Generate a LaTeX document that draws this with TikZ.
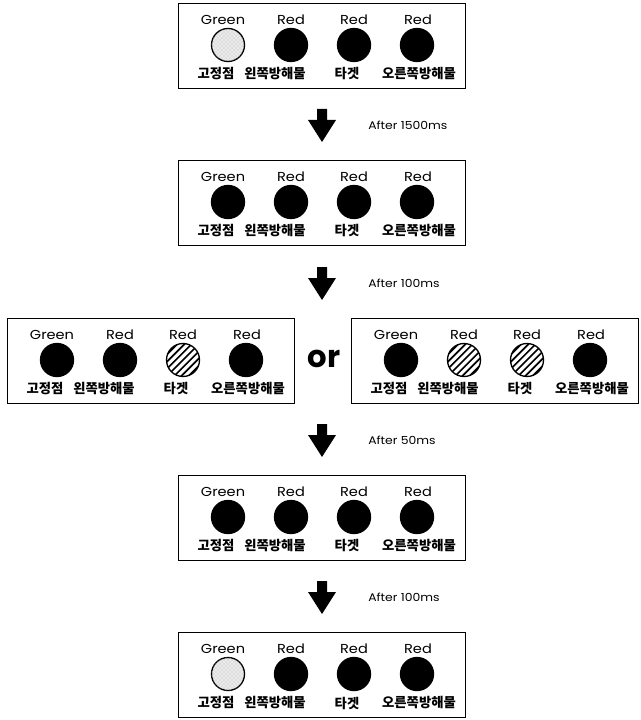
\documentclass[tikz,border=0pt]{standalone}
\usepackage{fontspec}
\usetikzlibrary{patterns}
\setmainfont{Poppins}[FakeStretch=1.12]
\newfontfamily\orfont{Poppins}
\newfontfamily\krfont{Noto Sans CJK KR}

\tikzset{
  panelbox/.style={draw, line width=1pt, minimum width=215.25pt, minimum height=63.75pt, inner sep=0pt},
  colorlabel/.style={font=\fontsize{9.75pt}{11pt}\selectfont, inner sep=0pt},
  posname/.style={font=\krfont\bfseries\fontsize{10pt}{11pt}\selectfont, inner sep=0pt},
  delay/.style={font=\fontsize{8.3pt}{10pt}\selectfont, anchor=west, inner sep=0pt},
  lamp/.style={circle, minimum size=24.75pt, inner sep=0pt, line width=1pt, draw},
  lampoff/.style={lamp, fill=black!8,
    postaction={pattern=crosshatch dots, pattern color=black!30}},
  lampon/.style={lamp, fill=black},
  lamphatch/.style={lamp, fill=white,
    path picture={
      \foreach \k in {-5,...,5}{
        \draw[line width=1.25pt]
          ([shift={({\k*3.6-25},{\k*3.6+25})}]path picture bounding box.center) --
          ([shift={({\k*3.6+25},{\k*3.6-25})}]path picture bounding box.center);
      }
    }},
}

% one panel of four lamps: name, left x, top y, lamp styles 1..4
\newcommand\panel[7]{%
  \node[panelbox, anchor=north west] (#1) at (#2,#3) {};
  \node[colorlabel] (#1-c1) at ({#2+45},{#3+17}) {Green};
  \node[colorlabel] (#1-c2) at ({#2+113},{#3+17}) {Red};
  \node[colorlabel] (#1-c3) at ({#2+176},{#3+17}) {Red};
  \node[colorlabel] (#1-c4) at ({#2+240},{#3+17}) {Red};
  \node[#4] (#1-l1) at ({#2+50},{#3+42}) {};
  \node[#5] (#1-l2) at ({#2+113},{#3+42}) {};
  \node[#6] (#1-l3) at ({#2+176},{#3+42}) {};
  \node[#7] (#1-l4) at ({#2+239},{#3+42}) {};
  \node[posname] (#1-n1) at ({#2+38},{#3+71}) {고정점};
  \node[posname] (#1-n2) at ({#2+97},{#3+71}) {왼쪽방해물};
  \node[posname] (#1-n3) at ({#2+169},{#3+71}) {타겟};
  \node[posname] (#1-n4) at ({#2+241},{#3+71}) {오른쪽방해물};
}

% thick downward block arrow: name, centre x, tip y
\newcommand\blockdown[3]{%
  \coordinate (#1) at (#2,#3);
  \fill (#1) ++(-5,-33) -- ++(10,0) -- ++(0,11) -- ++(9,0) -- (#1)
    -- ++(-14,-22) -- ++(9,0) -- cycle;
}

\begin{document}
\begin{tikzpicture}[x=0.75pt, y=-0.75pt]
  \fill[white] (0,0) rectangle (640,720);
  \useasboundingbox (0,0) rectangle (640,720);

  \panel{p1}{178}{3}{lampoff}{lampon}{lampon}{lampon}
  \blockdown{a1}{322}{142}
  \node[delay] (d1) at (368,125) {After 1500ms};

  \panel{p2}{178}{160}{lampon}{lampon}{lampon}{lampon}
  \blockdown{a2}{322}{300}
  \node[delay] (d2) at (368,283) {After 100ms};

  \panel{p3a}{7}{318}{lampon}{lampon}{lamphatch}{lampon}
  \node[font=\orfont\bfseries\fontsize{23pt}{24pt}\selectfont, inner sep=0pt] (or) at (324,359) {or};
  \panel{p3b}{351}{318}{lampon}{lamphatch}{lamphatch}{lampon}
  \blockdown{a3}{322}{457}
  \node[delay] (d3) at (368,440) {After 50ms};

  \panel{p4}{178}{475}{lampon}{lampon}{lampon}{lampon}
  \blockdown{a4}{322}{614}
  \node[delay] (d4) at (368,597) {After 100ms};

  \panel{p5}{178}{632}{lampoff}{lampon}{lampon}{lampon}
\end{tikzpicture}
\end{document}
